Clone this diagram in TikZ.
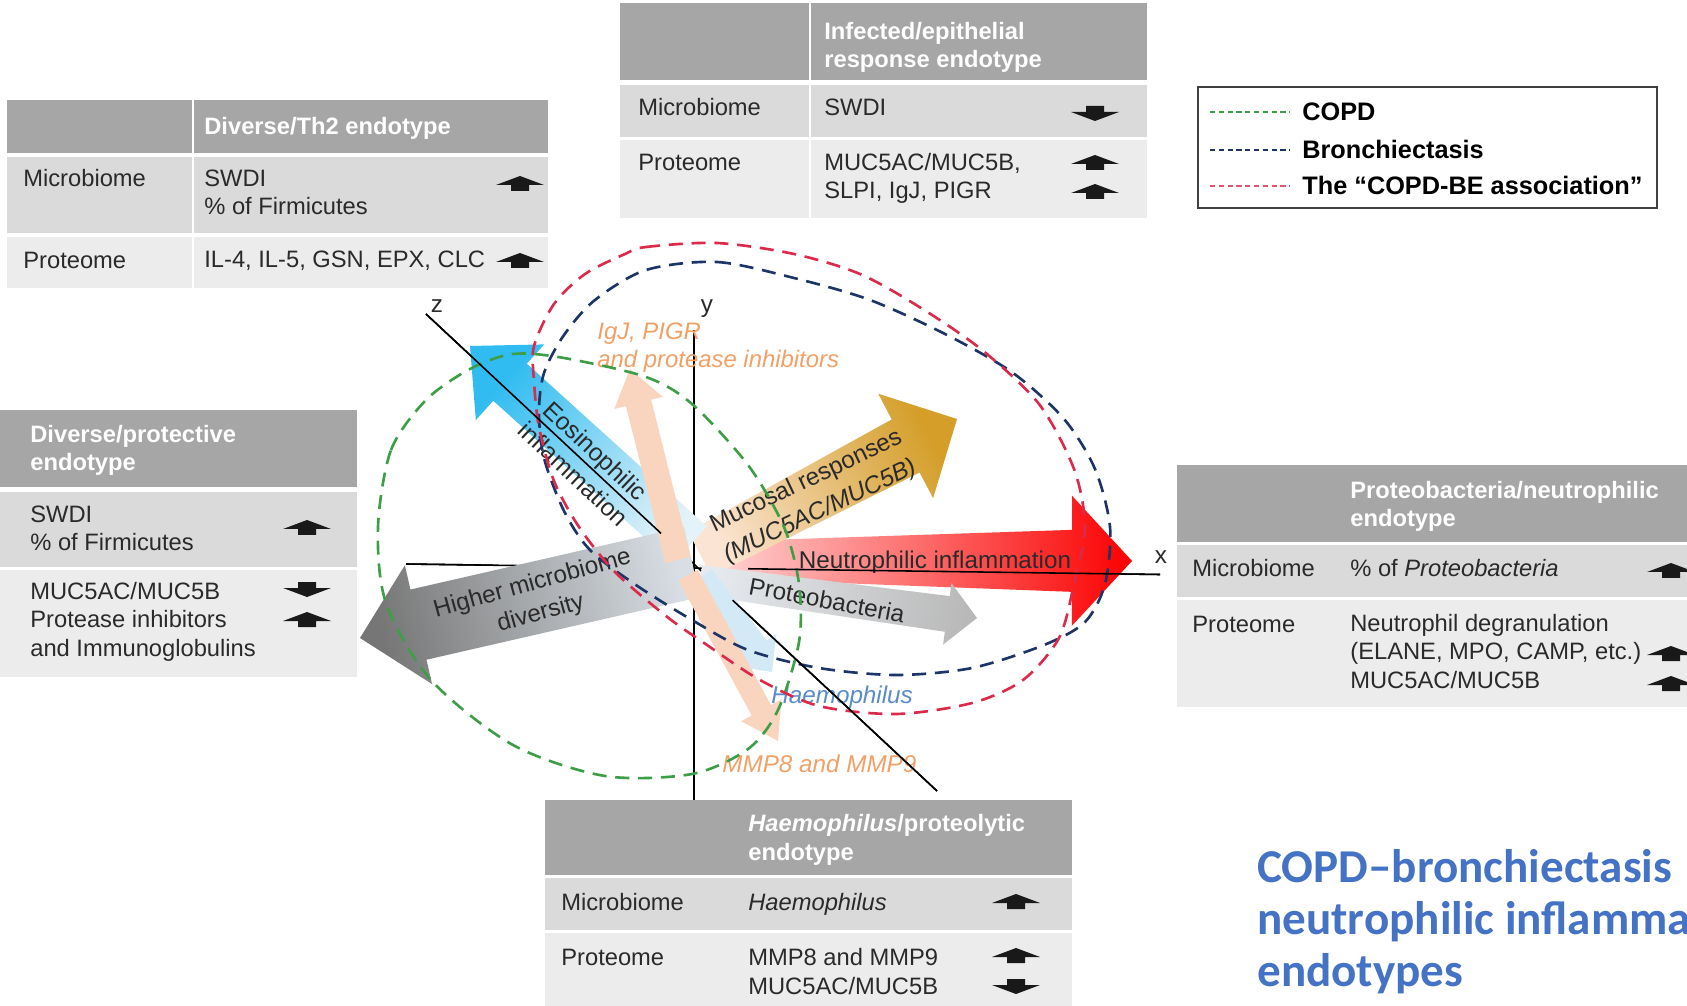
\documentclass[tikz,border=0pt]{standalone}
\usepackage{fontspec}
\setmainfont{Liberation Sans}
\newfontfamily\titlefont{Carlito}
\usetikzlibrary{calc}

\definecolor{hdr}{HTML}{A6A6A6}
\definecolor{rowa}{HTML}{DADADA}
\definecolor{rowb}{HTML}{ECECEC}
\definecolor{txt}{HTML}{2A2A2A}
\definecolor{copdg}{HTML}{3E9E48}
\definecolor{bronchb}{HTML}{1C3466}
\definecolor{assocr}{HTML}{DC2A4A}
\definecolor{peach}{HTML}{F9D5C0}
\definecolor{orangetxt}{HTML}{F2A066}
\definecolor{haemob}{HTML}{5A8CCB}
\definecolor{titleblue}{HTML}{4472C4}
\definecolor{paleblue}{HTML}{D3EAF6}

\newcommand\tabfont{\fontsize{13.5}{16}\selectfont}
\newcommand\diafont{\fontsize{13.8}{17.5}\selectfont}
\newcommand\legfont{\fontsize{14.4}{17}\selectfont}

% #1 style, #2 start, #3 tip, #4 half width at start, #5 half width at head, #6 head half width, #7 head length
\newcommand\fatarrow[7]{%
  \coordinate (fH) at ($(#3)!#7!(#2)$);
  \path[#1] ($(#2)!#4!90:(#3)$) -- ($(fH)!#5!90:(#3)$) -- ($(fH)!#6!90:(#3)$) -- (#3)
    -- ($(fH)!#6!-90:(#3)$) -- ($(fH)!#5!-90:(#3)$) -- ($(#2)!#4!-90:(#3)$) -- cycle;}

\tikzset{
  uparr/.pic={\fill[black!90] (0,-8) -- (24,1) -- (9,1) -- (9,7) -- (-9,7) -- (-9,1) -- (-24,1) -- cycle;},
  downarr/.pic={\fill[black!90] (0,8) -- (24,-1) -- (9,-1) -- (9,-7) -- (-9,-7) -- (-9,-1) -- (-24,-1) -- cycle;},
  tt/.style={font=\tabfont, anchor=base west, inner sep=0pt, align=left, text=txt},
  th/.style={tt, font=\tabfont\bfseries, text=white},
  dlab/.style={font=\diafont, inner sep=0pt, text=txt},
  olab/.style={font=\diafont\itshape, inner sep=0pt, text=orangetxt, align=left, anchor=base west},
  hlab/.style={font=\diafont\itshape, inner sep=0pt, text=haemob, anchor=base west},
  lg/.style={font=\legfont\bfseries, anchor=base west, inner sep=0pt, text=black},
  ell/.style={line width=1.5pt, dash pattern=on 8pt off 5pt},
  axisline/.style={line width=0.9pt, black},
  legline/.style={line width=0.7pt, dash pattern=on 3pt off 2pt},
  divider/.style={white, line width=1.2pt},
  redarr/.style={top color=red!85!black!10!red, bottom color=red!15, shading angle=-90},
  goldarr/.style={top color={rgb,255:red,212;green,158;blue,40}, bottom color={rgb,255:red,251;green,228;blue,211}, shading angle=-62.3},
  proarr/.style={top color={rgb,255:red,185;green,185;blue,185}, bottom color={rgb,255:red,230;green,234;blue,238}, shading angle=-97.8},
  grayarr/.style={top color={rgb,255:red,118;green,118;blue,118}, bottom color={rgb,255:red,216;green,222;blue,228}, shading angle=102.9},
  bluearr/.style={top color={rgb,255:red,48;green,188;blue,240}, bottom color={rgb,255:red,228;green,242;blue,249}, shading angle=47.9},
  peacharr/.style={fill=peach},
  palearr/.style={fill=paleblue}
}

\begin{document}
\begin{tikzpicture}[x=0.02cm, y=-0.02cm]
\useasboundingbox (0,0) rectangle (1687,1006);
\fill[white] (0,0) rectangle (1687,1006);

% ---------- Table 1: Diverse/Th2 ----------
\fill[hdr] (7,100) rectangle (548,153);
\fill[rowa] (7,157) rectangle (548,233);
\fill[rowb] (7,237) rectangle (548,288);
\draw[divider] (193,100) -- (193,288);
\node[th] (t1h) at (204,135) {Diverse/Th2 endotype};
\node[tt] (t1m) at (23,187) {Microbiome};
\node[tt] (t1mv) at (204,215) {SWDI\\\% of Firmicutes};
\pic at (520,184) {uparr};
\node[tt] (t1p) at (23,269) {Proteome};
\node[tt] (t1pv) at (204,268) {IL-4, IL-5, GSN, EPX, CLC};
\pic at (520,261) {uparr};

% ---------- Table 2: Infected/epithelial ----------
\fill[hdr] (620,3) rectangle (1147,80);
\fill[rowa] (620,85) rectangle (1147,137);
\fill[rowb] (620,140) rectangle (1147,218);
\draw[divider] (810,3) -- (810,218);
\node[th] (t2h) at (824,68) {Infected/epithelial\\response endotype};
\node[tt] (t2m) at (638,116) {Microbiome};
\node[tt] (t2mv) at (824,116) {SWDI};
\pic at (1095,113) {downarr};
\node[tt] (t2p) at (638,171) {Proteome};
\node[tt] (t2pv) at (824,199) {MUC5AC/MUC5B,\\SLPI, IgJ, PIGR};
\pic at (1095,163) {uparr};
\pic at (1095,192) {uparr};

% ---------- Legend ----------
\draw[black!75, line width=1.2pt] (1198,87) rectangle (1657,208);
\draw[legline, copdg] (1210,112) -- (1290,112);
\draw[legline, bronchb] (1210,150) -- (1290,150);
\draw[legline, assocr!80] (1210,186) -- (1290,186);
\node[lg] (lg1) at (1302,121) {COPD};
\node[lg] (lg2) at (1302,159) {Bronchiectasis};
\node[lg] (lg3) at (1302,195) {The “COPD-BE association”};

% ---------- Table 3: Diverse/protective ----------
\fill[hdr] (0,410) rectangle (357,487);
\fill[rowa] (0,492) rectangle (357,567);
\fill[rowb] (0,570) rectangle (357,677);
\node[th] (t3h) at (30,471) {Diverse/protective\\endotype};
\node[tt] (t3m) at (30,551) {SWDI\\\% of Firmicutes};
\pic at (307,528) {uparr};
\node[tt] (t3p) at (30,656) {MUC5AC/MUC5B\\Protease inhibitors\\and Immunoglobulins};
\pic at (307,589) {downarr};
\pic at (307,620) {uparr};

% ---------- Table 4: Proteobacteria/neutrophilic ----------
\fill[hdr] (1177,465) rectangle (1687,542);
\fill[rowa] (1177,545) rectangle (1687,597);
\fill[rowb] (1177,600) rectangle (1687,707);
\node[th] (t4h) at (1350,527) {Proteobacteria/neutrophilic\\endotype};
\node[tt] (t4m) at (1192,577) {Microbiome};
\node[tt] (t4mv) at (1350,577) {\% of \textit{Proteobacteria}};
\pic at (1671,571) {uparr};
\node[tt] (t4p) at (1192,632) {Proteome};
\node[tt] (t4pv) at (1350,688) {Neutrophil degranulation\\(ELANE, MPO, CAMP, etc.)\\MUC5AC/MUC5B};
\pic at (1671,654) {uparr};
\pic at (1671,684) {uparr};

% ---------- Table 5: Haemophilus/proteolytic ----------
\fill[hdr] (545,800) rectangle (1072,875);
\fill[rowa] (545,878) rectangle (1072,930);
\fill[rowb] (545,933) rectangle (1072,1006);
\node[th] (t5h) at (748,860) {\textit{Haemophilus}/proteolytic\\endotype};
\node[tt] (t5m) at (561,910) {Microbiome};
\node[tt] (t5mv) at (748,910) {\textit{Haemophilus}};
\pic at (1016,902) {uparr};
\node[tt] (t5p) at (561,965) {Proteome};
\node[tt] (t5pv) at (748,994) {MMP8 and MMP9\\MUC5AC/MUC5B};
\pic at (1016,956) {uparr};
\pic at (1016,986) {downarr};

% ---------- Title ----------
\node[anchor=base west, inner sep=0pt, align=left, text=titleblue,
  font={\titlefont\bfseries\fontsize{26.8}{29.5}\selectfont}] (title) at (1257,986)
  {COPD–bronchiectasis\\neutrophilic inflamma\\endotypes};

% ---------- Axes (under arrows) ----------
\coordinate (zA) at (426,314);
\coordinate (zB) at (937,791);
\coordinate (yA) at (694,330);
\coordinate (yB) at (694,800);
\coordinate (xA) at (406,564);
\coordinate (xB) at (1160,574.5);
\draw[axisline] (zA) -- (zB);
\draw[axisline] (yA) -- (yB);
\draw[axisline] (xA) -- (xB);

% ---------- Arrows ----------
\coordinate (redS) at (705,560);   \coordinate (redT) at (1132,561);
\coordinate (goldS) at (700,554);  \coordinate (goldT) at (957,419);
\coordinate (proS) at (700,580);   \coordinate (proT) at (977,618);
\coordinate (hbS) at (700,578);    \coordinate (hbT) at (772,672);
\coordinate (bluS) at (690,545);   \coordinate (bluT) at (470,346);
\coordinate (grS) at (692,562);    \coordinate (grT) at (360,638);
\coordinate (mmpS) at (688,575);   \coordinate (mmpT) at (778,741);
\coordinate (igS) at (678,560);    \coordinate (igT) at (630,369);

\fatarrow{redarr}{redS}{redT}{0.36cm}{0.62cm}{1.3cm}{1.2cm}
\fatarrow{goldarr}{goldS}{goldT}{0.5cm}{0.6cm}{1.18cm}{1.16cm}
\fatarrow{proarr}{proS}{proT}{0.3cm}{0.36cm}{0.62cm}{0.6cm}
\fatarrow{palearr}{hbS}{hbT}{0.3cm}{0.3cm}{0.54cm}{0.56cm}
\fatarrow{bluearr}{bluS}{bluT}{0.5cm}{0.5cm}{1.02cm}{1.08cm}
\fatarrow{grayarr}{grS}{grT}{0.72cm}{0.72cm}{1.22cm}{1.2cm}
\fatarrow{peacharr}{mmpS}{mmpT}{0.22cm}{0.22cm}{0.46cm}{0.7cm}
\fatarrow{peacharr}{igS}{igT}{0.26cm}{0.26cm}{0.5cm}{0.7cm}

% ---------- Arrow labels ----------
\node[dlab, rotate=-43.5, align=center, font=\fontsize{14}{18.1}\selectfont] (eos) at (584.5,462.4) {Eosinophilic\\inflammation};
\node[dlab, rotate=15.5, align=center, font=\fontsize{13.8}{17.5}\selectfont] (hmd) at (536.7,599) {Higher microbiome\\diversity};
\node[dlab, rotate=25.4, align=center, font=\fontsize{13.8}{18.9}\selectfont] (muc) at (813.5,496.8) {Mucosal responses\\\textit{(MUC5AC/MUC5B)}};
\node[dlab, anchor=base] (neu) at (935,568) {Neutrophilic inflammation};
\node[dlab, rotate=-10.6] (pro) at (827,600) {Proteobacteria};
\node[olab, font=\fontsize{13.6}{16.4}\selectfont\itshape] (igj) at (597,368) {IgJ, PIGR\\and protease inhibitors};
\node[olab] (mmp) at (722,772) {MMP8 and MMP9};
\node[hlab] (hae) at (771,703) {Haemophilus};

% ---------- Dashed ellipses ----------
\draw[ell, copdg] plot[smooth cycle] coordinates {
  (378,527) (391,450) (426,400) (470,369) (513,354) (564,358) (646,377) (692,404)
  (748,465) (784,527) (799,584) (799,642) (778,710) (748,749) (692,774) (605,776)
  (513,745) (431,680) (386,603)};
\draw[ell, bronchb] plot[smooth cycle] coordinates {
  (646,270) (717,262) (794,278) (870,300) (947,335) (1013,373) (1064,419) (1095,469)
  (1110,527) (1105,584) (1085,622) (1044,645) (972,668) (896,675) (819,668) (748,650)
  (692,620) (636,585) (590,550) (564,511) (544,458) (539,412) (544,373) (564,335) (595,300)};
\draw[ell, assocr] plot[smooth cycle] coordinates {
  (625,254) (646,247) (717,243) (794,254) (860,274) (921,308) (982,350) (1039,404)
  (1074,469) (1085,527) (1074,584) (1059,638) (1023,680) (972,703) (896,714) (819,706)
  (760,680) (707,645) (666,616) (615,572) (579,527) (554,481) (539,427) (534,381)
  (534,346) (554,304) (585,274)};

% ---------- Axis parts drawn over arrows ----------
\draw[axisline] (zA) -- ($(zA)!0.46!(zB)$);
\draw[axisline] ($(zA)!0.6!(zB)$) -- (zB);
\draw[axisline] (xA) -- ($(xA)!0.115!(xB)$);
\draw[axisline] ($(xA)!0.4536!(xB)$) -- (xB);
\node[dlab, anchor=base] (zl) at (437,313) {z};
\node[dlab, anchor=base] (yl) at (707,313) {y};
\node[dlab, anchor=base] (xl) at (1161,563) {x};
\end{tikzpicture}
\end{document}
